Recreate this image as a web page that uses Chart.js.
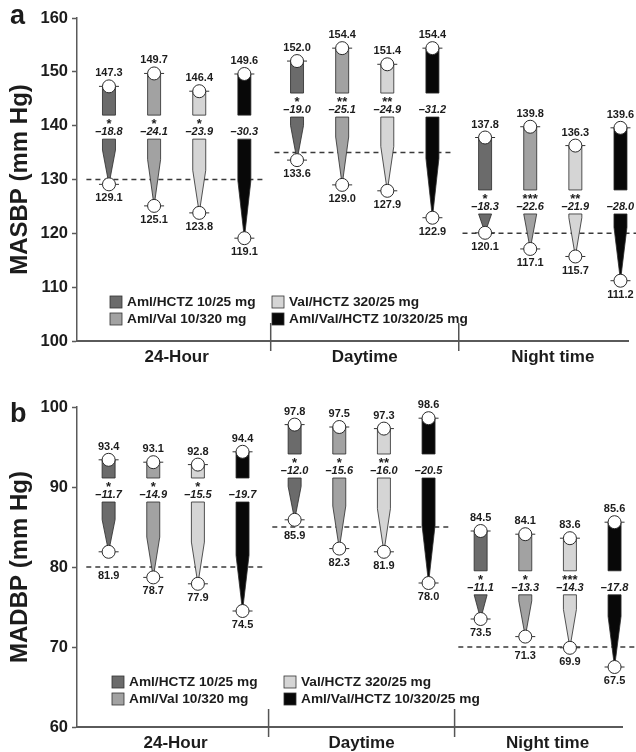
<!DOCTYPE html>
<html>
<head>
<meta charset="utf-8">
<script src="https://cdn.jsdelivr.net/npm/chart.js@4"></script>
<style>
  body { margin: 0; background: #fff; }
  canvas { display: block; }
</style>
</head>
<body>
<canvas id="chartA" width="636" height="376"></canvas>
<canvas id="chartB" width="636" height="376"></canvas>
<script>
// periods and treatments
const periods = ['24-Hour', 'Daytime', 'Night time'];
const treatments = ['Aml/HCTZ 10/25 mg', 'Aml/Val 10/320 mg', 'Val/HCTZ 320/25 mg', 'Aml/Val/HCTZ 10/320/25 mg'];

// MASBP, rows = treatment, cols = period
const sbpBaseline = [
    [147.3, 152.0, 137.8],
    [149.7, 154.4, 139.8],
    [146.4, 151.4, 136.3],
    [149.6, 154.4, 139.6]
];
const sbpEndpoint = [
    [129.1, 133.6, 120.1],
    [125.1, 129.0, 117.1],
    [123.8, 127.9, 115.7],
    [119.1, 122.9, 111.2]
];
const sbpChange = [
    [-18.8, -19.0, -18.3],
    [-24.1, -25.1, -22.6],
    [-23.9, -24.9, -21.9],
    [-30.3, -31.2, -28.0]
];
const sbpSignif = [
    ['*', '*', '*'],
    ['*', '**', '***'],
    ['*', '**', '**'],
    ['', '', '']
];
const sbpGoal = [130, 135, 120];

// MADBP
const dbpBaseline = [
    [93.4, 97.8, 84.5],
    [93.1, 97.5, 84.1],
    [92.8, 97.3, 83.6],
    [94.4, 98.6, 85.6]
];
const dbpEndpoint = [
    [81.9, 85.9, 73.5],
    [78.7, 82.3, 71.3],
    [77.9, 81.9, 69.9],
    [74.5, 78.0, 67.5]
];
const dbpChange = [
    [-11.7, -12.0, -11.1],
    [-14.9, -15.6, -13.3],
    [-15.5, -16.0, -14.3],
    [-19.7, -20.5, -17.8]
];
const dbpSignif = [
    ['*', '*', '*'],
    ['*', '*', '*'],
    ['*', '**', '***'],
    ['', '', '']
];
const dbpGoal = [80, 85, 70];

const barColors = ['#6b6b6b', '#a2a2a2', '#d5d5d5', '#080808'];
const offsets = [-0.36, -0.12, 0.12, 0.36];
const textColor = '#1c1c1c';
const FONT = 'Arial, "Liberation Sans", sans-serif';

// draws the wedge bars, goal lines, labels and legend
const wedgePlugin = {
    id: 'wedges',
    beforeDatasetsDraw(chart, args, o) {
        const { ctx, scales: { x, y } } = chart;
        ctx.save();
        // dashed goal lines
        ctx.setLineDash([5, 4]);
        ctx.strokeStyle = '#3a3a3a';
        ctx.lineWidth = 1.5;
        o.goal.forEach((v, g) => {
            const yy = y.getPixelForValue(v);
            ctx.beginPath();
            ctx.moveTo(x.getPixelForValue(g - 0.48), yy);
            ctx.lineTo(x.getPixelForValue(g + 0.47), yy);
            ctx.stroke();
        });
        ctx.setLineDash([]);

        const hw = 6.5;
        o.base.forEach((row, t) => {
            row.forEach((v, g) => {
                const cx = x.getPixelForValue(g + offsets[t]);
                const yTop = y.getPixelForValue(v);
                const yBot = y.getPixelForValue(o.end[t][g]);
                const yLab = y.getPixelForValue(o.labelAt[g]);
                const gapTop = yLab - 17, gapBot = yLab + 7;
                ctx.fillStyle = barColors[t];
                ctx.strokeStyle = '#2a2a2a';
                ctx.lineWidth = 0.8;
                ctx.beginPath();
                ctx.rect(cx - hw, yTop, hw * 2, gapTop - yTop);
                ctx.fill();
                ctx.stroke();
                const taper = Math.max(gapBot, yBot - 0.35 * (yBot - yTop));
                ctx.beginPath();
                ctx.moveTo(cx - hw, gapBot);
                ctx.lineTo(cx + hw, gapBot);
                ctx.lineTo(cx + hw, taper);
                ctx.lineTo(cx, yBot);
                ctx.lineTo(cx - hw, taper);
                ctx.closePath();
                ctx.fill();
                ctx.stroke();
                // little caps through the markers
                ctx.strokeStyle = '#333';
                ctx.lineWidth = 1;
                [yTop, yBot].forEach(yy => {
                    ctx.beginPath();
                    ctx.moveTo(cx - 10, yy);
                    ctx.lineTo(cx + 10, yy);
                    ctx.stroke();
                });
            });
        });
        ctx.restore();
    },
    afterDatasetsDraw(chart, args, o) {
        const { ctx, scales: { x, y }, chartArea } = chart;
        ctx.save();
        ctx.fillStyle = textColor;
        ctx.textAlign = 'center';
        o.base.forEach((row, t) => {
            row.forEach((v, g) => {
                const cx = x.getPixelForValue(g + offsets[t]);
                const yTop = y.getPixelForValue(v);
                const yBot = y.getPixelForValue(o.end[t][g]);
                const yLab = y.getPixelForValue(o.labelAt[g]);
                const yGoal = y.getPixelForValue(o.goal[g]);
                let yEndLab = yBot + 14;
                // keep the end value clear of the dashed goal line
                if (Math.abs(yEndLab - yGoal) < 7) yEndLab = yGoal + 9;
                ctx.textBaseline = 'middle';
                ctx.font = 'bold 11px ' + FONT;
                ctx.fillText(v.toFixed(1), cx, yTop - 13);
                ctx.fillText(o.end[t][g].toFixed(1), cx, yEndLab);
                ctx.font = 'italic bold 11px ' + FONT;
                ctx.fillText('\u2013' + Math.abs(o.change[t][g]).toFixed(1), cx, yLab);
                if (o.signif[t][g]) {
                    ctx.font = 'bold 13px ' + FONT;
                    ctx.textBaseline = 'alphabetic';
                    ctx.fillText(o.signif[t][g], cx, yLab - 4);
                }
            });
        });

        // period separators on the x axis
        ctx.strokeStyle = '#555';
        ctx.lineWidth = 1.5;
        [0.5, 1.5].forEach(v => {
            const xx = x.getPixelForValue(v);
            ctx.beginPath();
            ctx.moveTo(xx, chartArea.bottom - 18);
            ctx.lineTo(xx, chartArea.bottom + 10);
            ctx.stroke();
        });

        // legend, two columns
        ctx.textAlign = 'left';
        ctx.textBaseline = 'middle';
        ctx.font = 'bold 13.7px ' + FONT;
        treatments.forEach((name, i) => {
            const col = i < 2 ? 0 : 1;
            const row = i % 2;
            const lx = o.legendX[col];
            const ly = o.legendY + row * 17;
            ctx.fillStyle = barColors[i];
            ctx.fillRect(lx, ly - 6, 12, 12);
            ctx.strokeStyle = '#333';
            ctx.lineWidth = 0.8;
            ctx.strokeRect(lx, ly - 6, 12, 12);
            ctx.fillStyle = textColor;
            ctx.fillText(name, lx + 17, ly + 0.5);
        });

        // panel letter
        ctx.font = 'bold 27px ' + FONT;
        ctx.textBaseline = 'alphabetic';
        ctx.fillText(o.letter, 10, o.letterY);
        ctx.restore();
    }
};

function makePanel(id, cfg) {
    const datasets = treatments.map((name, t) => ({
        label: name,
        data: cfg.base[t].flatMap((v, g) => [
            { x: g + offsets[t], y: v },
            { x: g + offsets[t], y: cfg.end[t][g] }
        ]),
        pointRadius: 6.5,
        pointHoverRadius: 6.5,
        pointBackgroundColor: '#fff',
        pointBorderColor: '#2a2a2a',
        pointBorderWidth: 1,
        showLine: false
    }));

    new Chart(document.getElementById(id), {
        type: 'scatter',
        data: { datasets },
        options: {
            responsive: false,
            animation: false,
            events: [],
            layout: { padding: { left: 0, right: cfg.padRight, top: cfg.padTop, bottom: 0 } },
            plugins: {
                legend: { display: false },
                tooltip: { enabled: false },
                wedges: cfg
            },
            scales: {
                x: {
                    type: 'linear',
                    min: -0.53,
                    max: 2.40,
                    afterBuildTicks: s => { s.ticks = periods.map((p, i) => ({ value: i })); },
                    afterFit: s => { s.height = cfg.xHeight; },
                    ticks: {
                        callback: v => periods[v] || '',
                        font: { family: FONT, size: 17, weight: 'bold' },
                        color: textColor,
                        padding: 6,
                        maxRotation: 0,
                        autoSkip: false
                    },
                    grid: { display: true, drawOnChartArea: false, drawTicks: false },
                    border: { display: true, color: '#5a5a5a', width: 2 }
                },
                y: {
                    min: cfg.yMin,
                    max: cfg.yMax,
                    afterFit: s => { s.width = 77; },
                    ticks: {
                        stepSize: 10,
                        font: { family: FONT, size: 16.5, weight: 'bold' },
                        color: textColor,
                        padding: 4
                    },
                    grid: { drawOnChartArea: false, drawTicks: true, tickLength: 5, tickColor: '#5a5a5a', tickWidth: 1.5 },
                    border: { display: true, color: '#5a5a5a', width: 1.5 },
                    title: {
                        display: true,
                        text: cfg.yTitle,
                        font: { family: FONT, size: 24, weight: 'bold' },
                        color: textColor,
                        padding: { top: 6, bottom: 0 }
                    }
                }
            }
        },
        plugins: [wedgePlugin]
    });
}

makePanel('chartA', {
    base: sbpBaseline, end: sbpEndpoint, change: sbpChange, signif: sbpSignif, goal: sbpGoal,
    labelAt: [138.8, 142.9, 124.9],
    yMin: 100, yMax: 160, yTitle: 'MASBP (mm Hg)',
    padTop: 18, padRight: 8, xHeight: 35,
    legendX: [110, 272], legendY: 302, letter: 'a', letterY: 24
});

makePanel('chartB', {
    base: dbpBaseline, end: dbpEndpoint, change: dbpChange, signif: dbpSignif, goal: dbpGoal,
    labelAt: [89.0, 92.0, 77.4],
    yMin: 60, yMax: 100, yTitle: 'MADBP (mm Hg)',
    padTop: 31, padRight: 14, xHeight: 25,
    legendX: [112, 284], legendY: 306, letter: 'b', letterY: 46
});
</script>
</body>
</html>
